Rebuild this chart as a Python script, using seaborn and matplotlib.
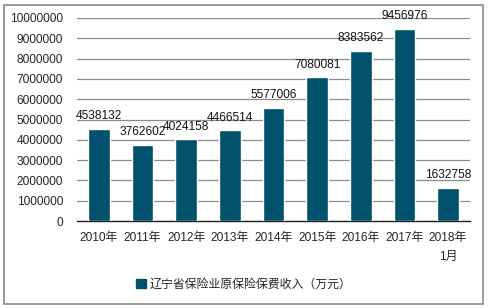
import matplotlib
matplotlib.use("Agg")
import matplotlib.pyplot as plt
import matplotlib.patches as mpatches
import seaborn as sns
import pandas as pd

years = ["2010年", "2011年", "2012年", "2013年", "2014年", "2015年", "2016年", "2017年", "2018年\n1月"]
premium = [4538132, 3762602, 4024158, 4466514, 5577006, 7080081, 8383562, 9456976, 1632758]
series_name = "辽宁省保险业原保险保费收入（万元）"

df = pd.DataFrame({"year": years, "value": premium})

sns.set_theme(style="white")
plt.rcParams['font.family'] = ['Liberation Sans', 'Noto Sans CJK SC', 'DejaVu Sans']

bar_color = "#01506C"

fig = plt.figure(figsize=(4.88, 3.08), dpi=100)
ax = fig.add_axes([0.158, 0.282, 0.805, 0.660])

sns.barplot(data=df, x="year", y="value", color=bar_color, width=0.5,
            saturation=1, ax=ax, zorder=3)

for i, v in enumerate(premium):
    ax.text(i, v + 330000, str(v), ha="center", va="bottom", fontsize=8.6, color="#111111", zorder=4)

ax.set_ylim(0, 10000000)
ax.set_yticks(range(0, 10000001, 1000000))
ax.set_yticklabels([str(t) for t in range(0, 10000001, 1000000)], fontsize=8.6)
ax.set_xlim(-0.5, len(years) - 0.5)
ax.tick_params(axis="x", labelsize=8.6, length=0, pad=8)
ax.tick_params(axis="y", length=0, pad=10)
for lbl in ax.get_xticklabels():
    lbl.set_linespacing(1.75)
    lbl.set_verticalalignment("top")
ax.yaxis.grid(True, color="#8c8c8c", linewidth=0.9, zorder=0)
ax.set_axisbelow(True)
ax.set_xlabel("")
ax.set_ylabel("")
for s in ["left", "right", "top"]:
    ax.spines[s].set_visible(False)
ax.spines["bottom"].set_color("#222222")
ax.spines["bottom"].set_linewidth(1.0)

handle = mpatches.Patch(color=bar_color, label=series_name)
fig.legend(handles=[handle], loc="center", bbox_to_anchor=(0.5, 0.076), frameon=False,
           fontsize=8.6, handlelength=0.8, handleheight=0.8, handletextpad=0.3)

border = mpatches.Rectangle((4 / 488, 4 / 308), 479 / 488, 299 / 308, transform=fig.transFigure,
                            fill=False, edgecolor="#8a8a8a", linewidth=1.2)
fig.patches.append(border)

fig.savefig("out.png", dpi=100)
